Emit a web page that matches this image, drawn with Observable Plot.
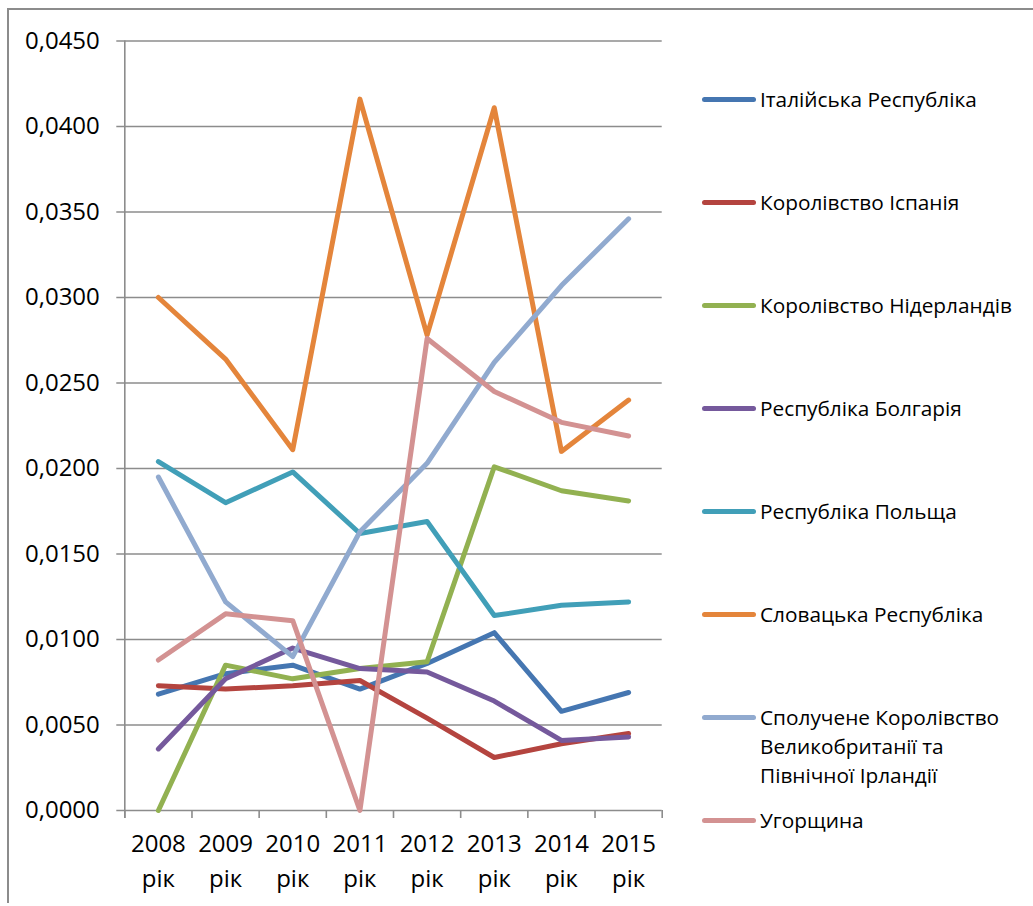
<!DOCTYPE html>
<html>
<head>
<meta charset="utf-8">
<script src="https://cdn.jsdelivr.net/npm/d3@7"></script>
<script src="https://cdn.jsdelivr.net/npm/@observablehq/plot@0.6"></script>
<style>
  html, body { margin: 0; padding: 0; background: #fff; }
  #wrap { position: relative; width: 1033px; height: 906px; overflow: hidden; font-family: "Open Sans", sans-serif; color: #000; }
  #border { position: absolute; left: 7px; top: 8px; width: 1040px; height: 895px; border-left: 2px solid #8c8c8c; border-top: 2px solid #8c8c8c; box-sizing: border-box; }
  #chart { position: absolute; left: 0; top: 0; }
  .item { position: absolute; left: 702px; display: flex; align-items: flex-start; font-size: 20.8px; line-height: 29px; }
  .sw { width: 54px; height: 5px; border-radius: 3px; margin-top: 12px; flex: none; }
  .lab { margin-left: 4px; width: 268px; }
</style>
</head>
<body>
<div id="wrap">
  <div id="border"></div>
  <div id="chart"></div>
  <div id="legend"></div>
</div>
<script>
const years = ["2008", "2009", "2010", "2011", "2012", "2013", "2014", "2015"];
const yearSuffix = "рік";
const countries = [
  "Італійська Республіка",
  "Королівство Іспанія",
  "Королівство Нідерландів",
  "Республіка Болгарія",
  "Республіка Польща",
  "Словацька Республіка",
  "Сполучене Королівство Великобританії та Північної Ірландії",
  "Угорщина"
];
const colors = ["#4576B1", "#B4443F", "#92B151", "#75599C", "#419FB8", "#E4853B", "#91AACF", "#D39292"];

const italy       = [0.0068, 0.0080, 0.0085, 0.0071, 0.0086, 0.0104, 0.0058, 0.0069];
const spain       = [0.0073, 0.0071, 0.0073, 0.0076, 0.0054, 0.0031, 0.0039, 0.0045];
const netherlands = [0.0000, 0.0085, 0.0077, 0.0083, 0.0087, 0.0201, 0.0187, 0.0181];
const bulgaria    = [0.0036, 0.0077, 0.0095, 0.0083, 0.0081, 0.0064, 0.0041, 0.0043];
const poland      = [0.0204, 0.0180, 0.0198, 0.0162, 0.0169, 0.0114, 0.0120, 0.0122];
const slovakia    = [0.0300, 0.0264, 0.0211, 0.0416, 0.0278, 0.0411, 0.0210, 0.0240];
const uk          = [0.0195, 0.0122, 0.0090, 0.0163, 0.0203, 0.0262, 0.0307, 0.0346];
const hungary     = [0.0088, 0.0115, 0.0111, 0.0000, 0.0276, 0.0245, 0.0227, 0.0219];

const yTicks = [0, 0.005, 0.01, 0.015, 0.02, 0.025, 0.03, 0.035, 0.04, 0.045];

const seriesValues = [italy, spain, netherlands, bulgaria, poland, slovakia, uk, hungary];
const data = [];
seriesValues.forEach((vals, k) => vals.forEach((v, i) => data.push({country: countries[k], i, v})));
const yearIdx = years.map((y, i) => i);
const bounds = d3.range(-0.5, years.length, 1);
const fmt = d => d3.format(".4f")(d).replace(".", ",");
const gridColor = "#8c8c8c";

const chart = Plot.plot({
  width: 680,
  height: 906,
  marginLeft: 124.3,
  marginRight: 18.3,
  marginTop: 40.5,
  marginBottom: 96,
  style: {fontFamily: "Open Sans", fontSize: "24px", color: "#000", background: "transparent", overflow: "visible"},
  x: {type: "linear", domain: [-0.5, years.length - 0.5], axis: null},
  y: {domain: [0, 0.045], axis: null},
  color: {domain: countries, range: colors},
  marks: [
    Plot.ruleY(yTicks, {y: d => d, stroke: gridColor, strokeWidth: 1.6, insetLeft: -8}),
    Plot.ruleX([-0.5], {x: d => d, stroke: gridColor, strokeWidth: 1.6, insetBottom: -8}),
    Plot.ruleX(bounds, {x: d => d, y1: 0, y2: 0, stroke: gridColor, strokeWidth: 1.6, insetBottom: -8}),
    Plot.text(yTicks, {y: d => d, frameAnchor: "left", textAnchor: "end", dx: -25, text: fmt, fontSize: 24, fill: "#000"}),
    Plot.text(yearIdx, {x: d => d, frameAnchor: "bottom", lineAnchor: "top", dy: 17, lineHeight: 1.45,
      text: d => years[d] + "\n" + yearSuffix, fontSize: 24, fill: "#000"}),
    Plot.line(data, {x: "i", y: "v", z: "country", stroke: "country", strokeWidth: 5, strokeLinejoin: "round", strokeLinecap: "round"})
  ]
});
document.getElementById("chart").appendChild(chart);

const legend = document.getElementById("legend");
countries.forEach((c, k) => {
  const item = document.createElement("div");
  item.className = "item";
  item.style.top = (99 + k * 103.1 - 14.5) + "px";
  const sw = document.createElement("div");
  sw.className = "sw";
  sw.style.background = colors[k];
  const lab = document.createElement("div");
  lab.className = "lab";
  lab.textContent = c;
  item.appendChild(sw);
  item.appendChild(lab);
  legend.appendChild(item);
});
</script>
</body>
</html>
